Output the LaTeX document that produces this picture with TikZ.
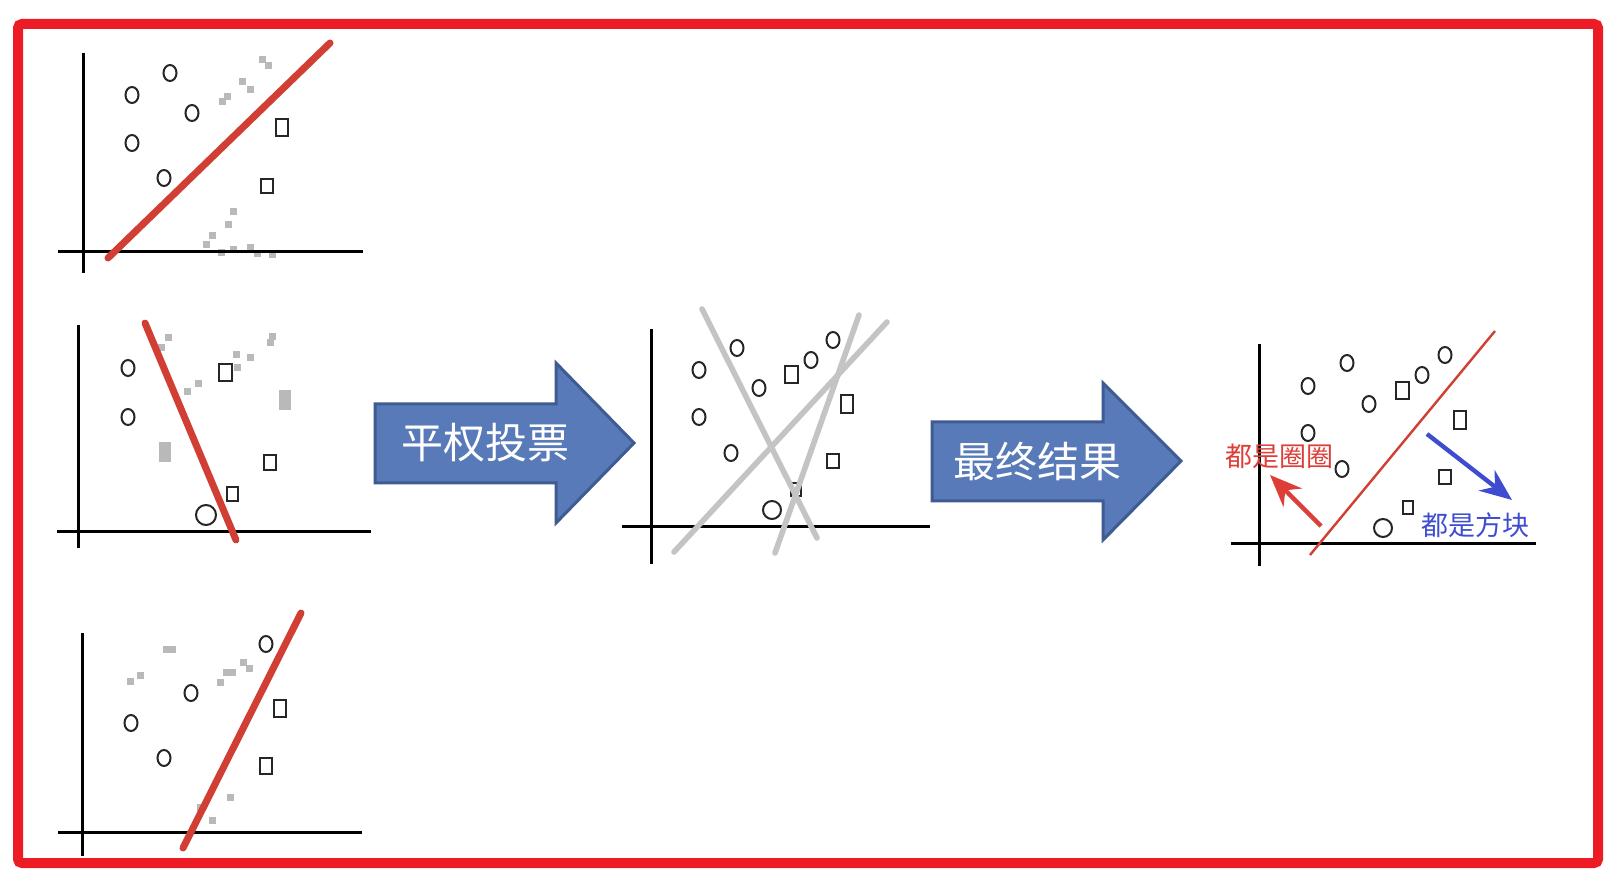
\documentclass[tikz,border=0pt]{standalone}
\usepackage{fontspec}
\newfontfamily\cjk{Noto Sans CJK SC}
\definecolor{framered}{RGB}{237, 28, 36}
\definecolor{cutred}{RGB}{208, 62, 52}
\definecolor{votegray}{RGB}{196, 196, 196}
\definecolor{arrowblue}{RGB}{88, 122, 184}
\definecolor{arrowedge}{RGB}{62, 92, 146}
\definecolor{labelred}{RGB}{222, 62, 56}
\definecolor{labelblue}{RGB}{62, 76, 208}
\usetikzlibrary{arrows.meta}

\begin{document}
\begin{tikzpicture}[x=0.5pt, y=-0.5pt,
  axis/.style={line width=1.5pt},
  pt/.style={line width=1pt, black!85},
  blur/.style={fill=gray!55, draw=none},
  cutline/.style={cutred, line width=3.5pt, line cap=round},
  voteline/.style={votegray, line width=2.8pt, line cap=round},
  bigarrow/.style={draw=arrowedge, fill=arrowblue, line width=1.5pt},
  hint/.style={line width=2.2pt, -{Stealth[length=16pt, width=13pt]}}]

  \useasboundingbox (0,0) rectangle (1622,886);
  \draw[framered, line width=5pt, rounded corners=2pt] (18,24) rectangle (1598,863);

  % Sample 1
  \foreach \a/\b in {227/97, 222/102, 242/82, 250/90, 262/60, 268/66, 233/212, 228/225, 212/236, 206/245, 221/253, 233/250, 250/248, 257/254, 272/255}
    \fill[blur] (\a,\b) +(-3.5,-3.5) rectangle +(3.5,3.5);
  \draw[axis] (58,252) -- (363,252);
  \draw[axis] (83,53) -- (83,273);
  \foreach \a/\b in {132/95, 170/73, 192/113, 132/143, 164/178}
    \draw[pt] (\a,\b) ellipse [x radius=6.5, y radius=8];
  \foreach \a/\b/\w/\h in {282/128/12/17, 267/186/12/14}
    \draw[pt] (\a,\b) +(-\w/2,-\h/2) rectangle +(\w/2,\h/2);
  \draw[cutline] (108,258) -- (330,43);

  % Sample 2
  \foreach \a/\b in {168/338, 161/348, 187/392, 198/384, 237/368, 236/355, 250/358, 272/337, 270/343}
    \fill[blur] (\a,\b) +(-3.5,-3.5) rectangle +(3.5,3.5);
  \fill[blur] (159,442) rectangle (171,462);
  \fill[blur] (279,390) rectangle (291,410);
  \draw[axis] (57,532) -- (371,532);
  \draw[axis] (78,325) -- (78,548);
  \foreach \a/\b in {128/368, 128/417}
    \draw[pt] (\a,\b) ellipse [x radius=6.5, y radius=8];
  \draw[pt] (206,515) circle [radius=10];
  \foreach \a/\b/\w/\h in {225/373/13/17, 270/463/12/15, 232/494/11/14}
    \draw[pt] (\a,\b) +(-\w/2,-\h/2) rectangle +(\w/2,\h/2);
  \draw[cutline] (145,323) -- (236,540);

  % Sample 3
  \foreach \a/\b in {166/650, 172/650, 130/682, 140/676, 226/673, 232/673, 243/663, 249/669, 220/683, 200/807, 230/797, 212/820}
    \fill[blur] (\a,\b) +(-3.5,-3.5) rectangle +(3.5,3.5);
  \draw[axis] (58,832) -- (362,832);
  \draw[axis] (82,633) -- (82,856);
  \foreach \a/\b in {266/644, 191/693, 131/723, 164/758}
    \draw[pt] (\a,\b) ellipse [x radius=6.5, y radius=8];
  \foreach \a/\b/\w/\h in {280/709/12/17, 266/766/12/15}
    \draw[pt] (\a,\b) +(-\w/2,-\h/2) rectangle +(\w/2,\h/2);
  \draw[cutline] (183,848) -- (301,613);

  % Voting arrow
  \draw[bigarrow] (375,404) -- (556,404) -- (556,363) -- (634,443) -- (556,523) -- (556,483) -- (375,483) -- cycle;
  \node[text=white, font=\cjk\fontsize{21pt}{25pt}\selectfont] (vote) at (485,443) {平权投票};

  % All lines together
  \draw[axis] (622,527) -- (930,527);
  \draw[axis] (651,329) -- (651,564);
  \foreach \a/\b in {699/370, 737/348, 759/388, 699/417, 731/453, 811/360, 833/340}
    \draw[pt] (\a,\b) ellipse [x radius=6.5, y radius=8];
  \draw[pt] (772,510) circle [radius=9];
  \foreach \a/\b/\w/\h in {791/375/13/17, 847/404/12/18, 833/461/12/14, 796/490/10/13}
    \draw[pt] (\a,\b) +(-\w/2,-\h/2) rectangle +(\w/2,\h/2);
  \draw[voteline] (702,309) -- (817,538);
  \draw[voteline] (674,552) -- (887,322);
  \draw[voteline] (775,553) -- (859,315);

  % Result arrow
  \draw[bigarrow] (932,422) -- (1103,422) -- (1103,383) -- (1181,461) -- (1103,540) -- (1103,501) -- (932,501) -- cycle;
  \node[text=white, font=\cjk\fontsize{21pt}{25pt}\selectfont] (result) at (1037,462) {最终结果};

  % Final model
  \draw[axis] (1231,544) -- (1536,544);
  \draw[axis] (1259,344) -- (1259,566);
  \foreach \a/\b in {1308/386, 1347/363, 1369/404, 1422/375, 1445/355, 1308/433, 1342/469}
    \draw[pt] (\a,\b) ellipse [x radius=6.5, y radius=8];
  \draw[pt] (1383,528) circle [radius=9];
  \foreach \a/\b/\w/\h in {1402/391/13/17, 1460/420/12/18, 1445/477/12/14, 1408/508/10/13}
    \draw[pt] (\a,\b) +(-\w/2,-\h/2) rectangle +(\w/2,\h/2);
  \draw[cutred, line width=1.2pt] (1310,555) -- (1495,331);

  \node[text=labelred, font=\cjk\fontsize{13.5pt}{16pt}\selectfont, inner sep=1pt] (circles) at (1279,456) {都是圈圈};
  \node[text=labelblue, font=\cjk\fontsize{13.5pt}{16pt}\selectfont, inner sep=1pt] (squares) at (1475,525) {都是方块};
  \coordinate (redtail) at (1321,526);
  \coordinate (redtip) at (1270,475);
  \coordinate (bluetail) at (1427,434);
  \coordinate (bluetip) at (1512,500);
  \draw[hint, labelred] (redtail) -- (redtip);
  \draw[hint, labelblue] (bluetail) -- (bluetip);
\end{tikzpicture}
\end{document}
